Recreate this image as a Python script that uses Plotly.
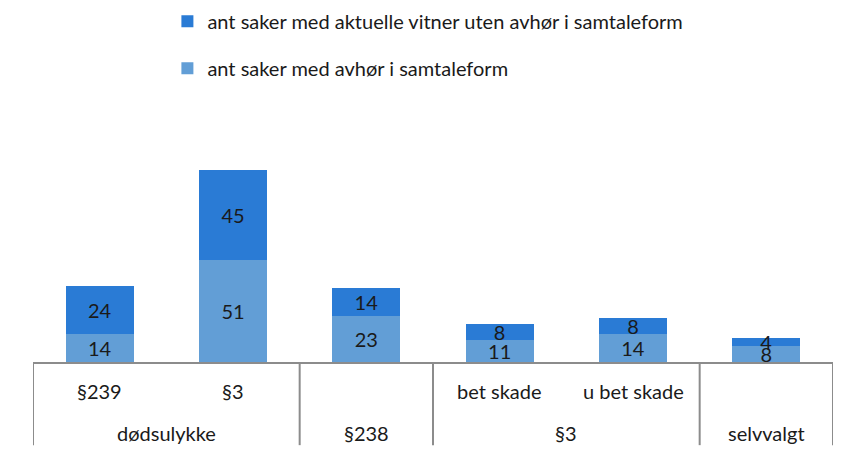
import plotly.graph_objects as go

groups = ["dødsulykke", "dødsulykke", "§238", "§3", "§3", "selvvalgt"]
subs = ["§239", "§3", "", "bet skade", "u bet skade", ""]
avhor = [14, 51, 23, 11, 14, 8]
uten = [24, 45, 14, 8, 8, 4]
name_avhor = "ant saker med avhør i samtaleform"
name_uten = "ant saker med aktuelle vitner uten avhør i samtaleform"

FONT = "Lato"
FS = 20
TXT = "#1a1a1a"
GRID = "#8c8c8c"
idx = list(range(len(subs)))

fig = go.Figure()
fig.add_trace(go.Bar(x=idx, y=avhor, name=name_avhor, marker_color="#629ed6",
                     marker_line_width=0, text=avhor, textposition="inside",
                     insidetextanchor="middle", textangle=0, constraintext="none",
                     textfont=dict(family=FONT, size=FS, color=TXT),
                     legendgroup="a", legendrank=2))
fig.add_trace(go.Bar(x=idx, y=uten, name=name_uten, marker_color="#2a7bd5",
                     marker_line_width=0, text=uten, textposition="inside",
                     insidetextanchor="middle", textangle=0, constraintext="none",
                     textfont=dict(family=FONT, size=FS, color=TXT),
                     legendgroup="b", legendrank=1))

shapes = []
annotations = []
for i, s in enumerate(subs):
    if s:
        annotations.append(dict(x=i, xref="x", y=0, yref="paper", yshift=-29,
                                text=s, showarrow=False, yanchor="middle",
                                font=dict(family=FONT, size=FS, color=TXT)))
start = 0
bounds = [-0.5]
for i in range(1, len(groups) + 1):
    if i == len(groups) or groups[i] != groups[start]:
        annotations.append(dict(x=(start + i - 1) / 2, xref="x", y=0, yref="paper",
                                yshift=-71, text=groups[start], showarrow=False,
                                yanchor="middle",
                                font=dict(family=FONT, size=FS, color=TXT)))
        bounds.append(i - 0.5)
        start = i
for b in bounds:
    shapes.append(dict(type="line", xref="x", yref="paper", x0=b, x1=b,
                       y0=0, y1=-0.33, line=dict(color=GRID, width=2)))

fig.update_layout(
    width=844, height=453,
    margin=dict(l=25, r=19, t=102, b=99, autoexpand=False),
    paper_bgcolor="white", plot_bgcolor="white",
    barmode="stack", bargap=0.49,
    font=dict(family=FONT, size=FS, color=TXT),
    uniformtext=dict(minsize=FS, mode="show"),
    xaxis=dict(range=[-0.5, 5.5], showticklabels=False, ticks="",
               showgrid=False, zeroline=False, showline=True,
               linecolor=GRID, linewidth=2),
    yaxis=dict(range=[0, 126], visible=False),
    legend=dict(x=0.168, y=1.43, xanchor="left", yanchor="top",
                traceorder="grouped", tracegroupgap=18,
                font=dict(family=FONT, size=FS, color=TXT)),
    shapes=shapes, annotations=annotations,
)
fig.write_html("out.html")
